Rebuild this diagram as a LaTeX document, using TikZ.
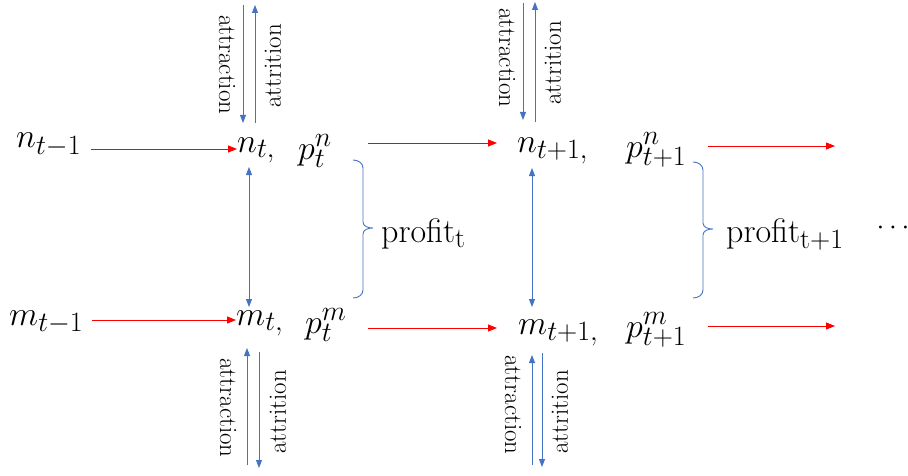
\RequirePackage{fix-cm}
\documentclass[tikz,border=0pt]{standalone}
\usetikzlibrary{arrows.meta}
\definecolor{myblue}{RGB}{68,114,196}
\DeclareMathSizes{34}{34}{28}{21}
\begin{document}
\begin{tikzpicture}[x=1pt,y=1pt,
  mathtxt/.style={font=\fontsize{34}{40}\selectfont, inner sep=0pt},
  lbl/.style={font=\fontsize{25}{30}\selectfont, inner sep=0pt},
  redarr/.style={draw=red, line width=0.9pt, -{Triangle[length=9pt,width=7pt]}},
  bluearr/.style={draw=myblue, line width=0.9pt, -{Triangle[length=8pt,width=6pt]}},
  bluedbl/.style={draw=myblue, line width=0.9pt, {Triangle[length=8pt,width=6pt]}-{Triangle[length=8pt,width=6pt]}},
  bracestyle/.style={draw=myblue, line width=0.9pt}]
\useasboundingbox (0,0) rectangle (908,475);

% row n
\node[mathtxt, anchor=base west] (nt1) at (16,327) {$n_{t-1}$};
\node[mathtxt, anchor=base west] (nt) at (237,323) {$n_{t,}$};
\node[mathtxt, anchor=base west] (pnt) at (298,316) {$p_t^n$};
\node[mathtxt, anchor=base west] (nt2) at (517,323) {$n_{t+1,}$};
\node[mathtxt, anchor=base west] (pnt2) at (626,318) {$p_{t+1}^n$};
% row m
\node[mathtxt, anchor=base west] (mt1) at (9,150) {$m_{t-1}$};
\node[mathtxt, anchor=base west] (mt) at (236,150) {$m_{t,}$};
\node[mathtxt, anchor=base west] (pmt) at (305,142) {$p_t^m$};
\node[mathtxt, anchor=base west] (mt2) at (518,141) {$m_{t+1,}$};
\node[mathtxt, anchor=base west] (pmt2) at (626,138) {$p_{t+1}^m$};

% profit labels
\node[mathtxt, anchor=base west] (pr1) at (381,233) {profit$_{\mathrm{t}}$};
\node[mathtxt, anchor=base west] (pr2) at (726,233) {profit$_{\mathrm{t+1}}$};
\node[font=\fontsize{28}{30}\selectfont, inner sep=0pt, anchor=base] (dots) at (893,241) {$\cdots$};

% free ends
\coordinate (e1) at (835,329);
\coordinate (e2) at (835,149);

% red arrows
\draw[redarr] (91,326) -- (nt.west |- 0,326);
\draw[redarr] (92,155) -- (mt.west |- 0,155);
\draw[redarr] (368,332) -- (497,332);
\draw[redarr] (368,147) -- (497,147);
\draw[redarr] (708,329) -- (e1);
\draw[redarr] (708,149) -- (e2);

% column 1 blue arrows
\draw[bluearr] (243,470) -- (243,352);
\draw[bluearr] (255,352) -- (255,470);
\node[lbl, rotate=-90] (a1) at (227,410) {attraction};
\node[lbl, rotate=90] (b1) at (273,409) {attrition};
\draw[bluedbl] (249,308) -- (249,168);
\draw[bluearr] (247,10) -- (247,127);
\draw[bluearr] (259,123) -- (259,7);
\node[lbl, rotate=-90] (a2) at (228,67) {attraction};
\node[lbl, rotate=90] (b2) at (278,63) {attrition};

% column 2 blue arrows
\draw[bluearr] (523,472) -- (523,355);
\draw[bluearr] (535,353) -- (535,473);
\node[lbl, rotate=-90] (a3) at (507,417) {attraction};
\node[lbl, rotate=90] (b3) at (553,412) {attrition};
\draw[bluedbl] (532,307) -- (532,168);
\draw[bluearr] (532,10) -- (532,120);
\draw[bluearr] (542,122) -- (542,8);
\node[lbl, rotate=-90] (a4) at (513,70) {attraction};
\node[lbl, rotate=90] (b4) at (560,63) {attrition};

% braces
\draw[bracestyle] (353,315) to[out=0,in=90] (363,307) -- (363,253) to[out=-90,in=180] (373,247)
  to[out=180,in=90] (363,241) -- (363,185) to[out=-90,in=0] (353,177);
\draw[bracestyle] (693,313) to[out=0,in=90] (703,305) -- (703,252) to[out=-90,in=180] (713,246)
  to[out=180,in=90] (703,240) -- (703,185) to[out=-90,in=0] (693,177);
\end{tikzpicture}
\end{document}
